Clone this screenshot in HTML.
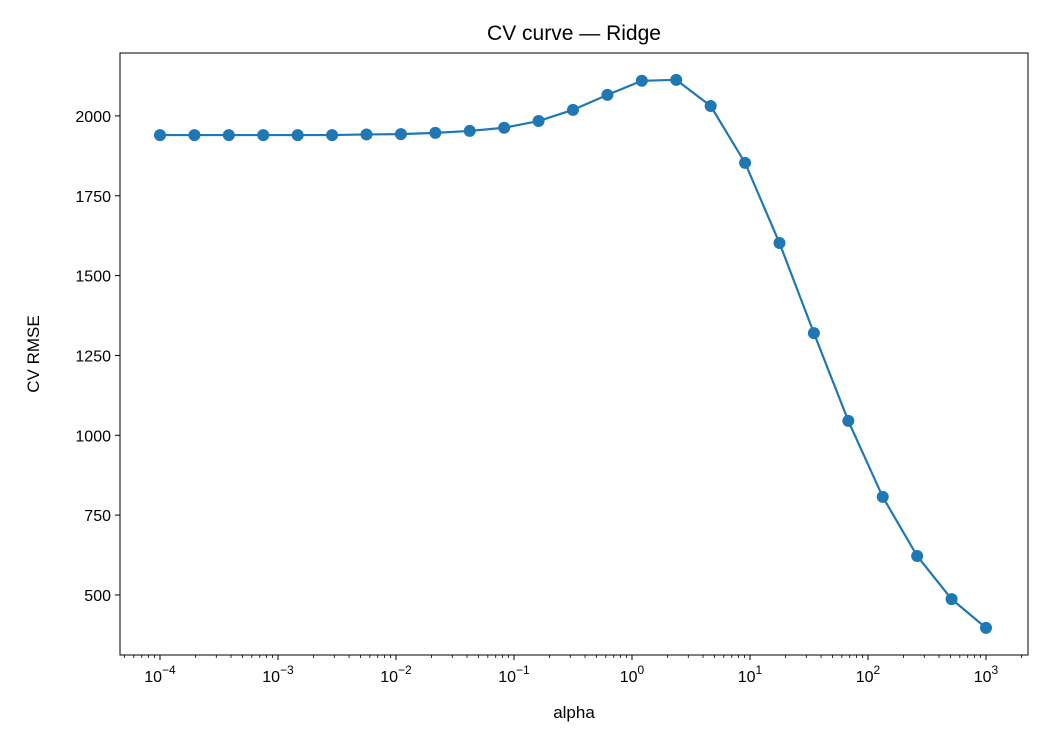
<!DOCTYPE html>
<html><head><meta charset="utf-8"><style>
body{margin:0;background:#fff;}
svg{display:block;font-family:"Liberation Sans","DejaVu Sans",sans-serif;}
</style></head><body>
<svg id="c" width="1050" height="750"></svg>
<script>
const alphaExp = [-4,-3.7083,-3.4167,-3.125,-2.8333,-2.5417,-2.25,-1.9583,-1.6667,-1.375,-1.0833,-0.7917,-0.5,-0.2083,0.0833,0.375,0.6667,0.9583,1.25,1.5417,1.8333,2.125,2.4167,2.7083,3];
const rmse = [1940,1940,1940,1940,1940,1940,1942,1943,1947,1953,1963,1984,2019,2066,2110,2113,2031,1853,1602,1320,1045,807,622,487,397];
const yTicks = [500,750,1000,1250,1500,1750,2000];
const xTickExps = [-4,-3,-2,-1,0,1,2,3];

const L=120,R=1028,T=53,B=655;
const xMin=-4.339,xMax=3.356,yMin=312,yMax=2197;
const xs=e=>L+(e-xMin)/(xMax-xMin)*(R-L);
const ys=v=>B-(v-yMin)/(yMax-yMin)*(B-T);
const svg=document.getElementById('c');
const NS='http://www.w3.org/2000/svg';
function mk(tag,attrs,parent){const el=document.createElementNS(NS,tag);for(const k in attrs)el.setAttribute(k,attrs[k]);(parent||svg).appendChild(el);return el;}

const frame=mk('rect',{x:L,y:T,width:R-L,height:B-T,fill:'none',stroke:'#000','stroke-width':1});



const t=mk('text',{x:(L+R)/2,y:40,'text-anchor':'middle','font-size':'21'});
t.textContent='CV curve — Ridge';



yTicks.forEach(v=>{
  const y=ys(v);
  mk('line',{x1:L-5,x2:L,y1:y,y2:y,stroke:'#000'});
  const tx=mk('text',{x:L-9,y:y+6,'text-anchor':'end','font-size':'16'});
  tx.textContent=v;
  
  
});
for(let d=-5;d<=3;d++){
  for(let m=2;m<=9;m++){
    const e=d+Math.log10(m);
    if(e<xMin||e>xMax)continue;
    const x=xs(e);
    mk('line',{x1:x,x2:x,y1:B,y2:B+3,stroke:'#000','stroke-width':0.8});
  }
}
xTickExps.forEach(e=>{
  const x=xs(e);
  mk('line',{x1:x,x2:x,y1:B,y2:B+5,stroke:'#000'});
  const tx=mk('text',{x:x,y:B+27,'text-anchor':'middle','font-size':'16'});
  
  
  const a=document.createElementNS(NS,'tspan');a.textContent='10';tx.appendChild(a);
  const b=document.createElementNS(NS,'tspan');b.setAttribute('dy','-8');b.setAttribute('font-size','12');
  b.textContent=(e<0?'\u2212'+(-e):''+e);tx.appendChild(b);
});
const xl=mk('text',{x:(L+R)/2,y:718,'text-anchor':'middle','font-size':'17'});
xl.textContent='alpha';


const yl=mk('text',{x:39,y:(T+B)/2,'text-anchor':'middle','font-size':'17',transform:`rotate(-90 39 ${(T+B)/2})`});
yl.textContent='CV RMSE';



const pts=alphaExp.map((e,i)=>xs(e)+','+ys(rmse[i])).join(' ');
const line=mk('polyline',{points:pts,fill:'none',stroke:'#1f77b4','stroke-width':2.2});


alphaExp.forEach((e,i)=>{
  const c=mk('circle',{cx:xs(e),cy:ys(rmse[i]),r:6,fill:'#1f77b4'});
  
  
});
</script>
</body></html>
